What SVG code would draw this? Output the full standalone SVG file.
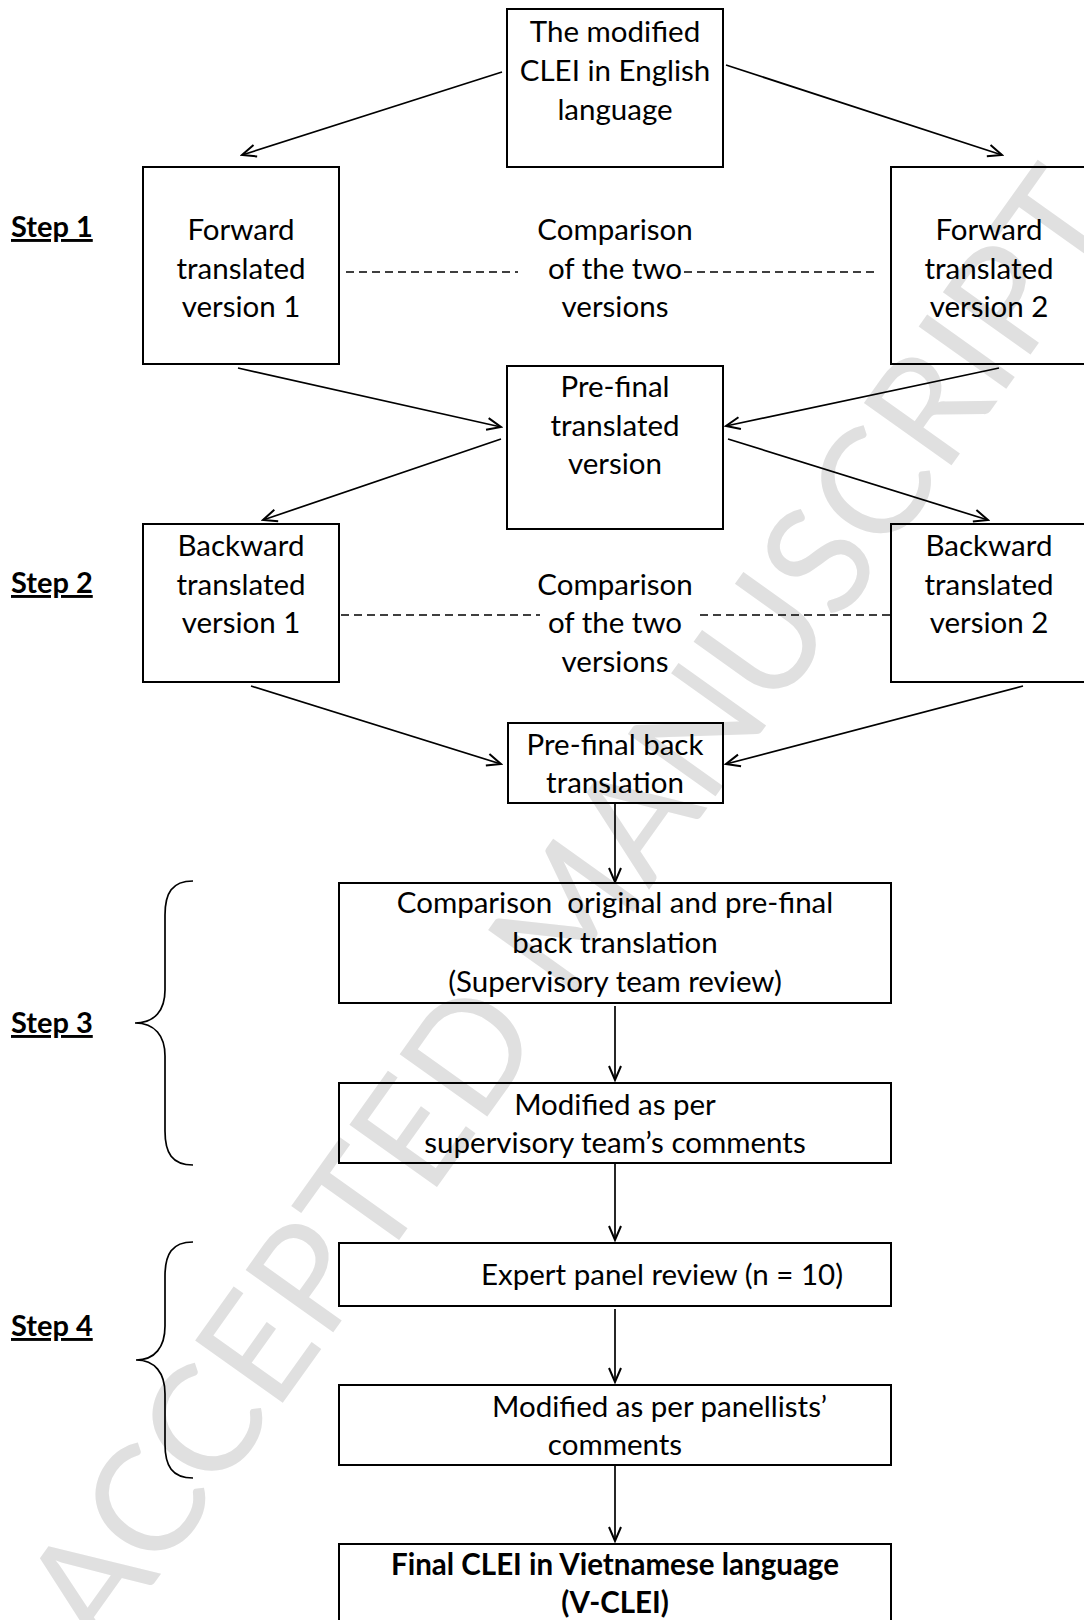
<svg xmlns="http://www.w3.org/2000/svg" width="1084" height="1620" viewBox="0 0 1084 1620">
<defs>
<style>
.box{fill:none;stroke:#000;stroke-width:2}
.t{font-family:Lato,"Liberation Sans",sans-serif;font-size:29.5px;fill:#000;text-anchor:middle}
.ts{font-family:Lato,"Liberation Sans",sans-serif;font-size:29.5px;fill:#000}
.b{font-weight:bold}
.step{font-family:Lato,"Liberation Sans",sans-serif;font-size:29px;font-weight:bold;fill:#000;text-decoration:underline}
.c{stroke:#000;stroke-width:1.7;fill:none}
.d{stroke:#000;stroke-width:1.6;fill:none;stroke-dasharray:8 5}
.wm{font-family:Lato,"Liberation Sans",sans-serif;font-size:150px;fill:#e0e0e0;text-anchor:middle}
</style>
<marker id="ah" markerUnits="userSpaceOnUse" markerWidth="18" markerHeight="16" refX="16" refY="8" orient="auto">
<path d="M2,2 L16,8 L2,14" fill="none" stroke="#000" stroke-width="2"/>
</marker>
</defs>
<rect width="1084" height="1620" fill="#fff"/>
<text class="wm" transform="translate(572,908) rotate(-54.5)" dy="52">ACCEPTED MANUSCRIPT</text>

<g id="labels">
<text class="step" x="11" y="237">Step 1</text>
<text class="step" x="11" y="593">Step 2</text>
<text class="step" x="11" y="1033">Step 3</text>
<text class="step" x="11" y="1336">Step 4</text>
<path class="c" d="M193,881 C172,881 165,893 165,915 L165,990 C165,1010 155,1023 135,1023 C155,1023 165,1036 165,1056 L165,1131 C165,1153 172,1165 193,1165"/>
<path class="c" d="M193,1242 C172,1242 165,1254 165,1276 L165,1326 C165,1347 155,1360 136,1360 C155,1360 165,1373 165,1394 L165,1444 C165,1466 172,1478 193,1478"/>
</g>

<g id="n-original">
<rect class="box" x="507" y="9" width="216" height="158"/>
<text class="t" x="615" y="42">The modified</text>
<text class="t" x="615" y="81">CLEI in English</text>
<text class="t" x="615" y="120">language</text>
</g>
<g id="n-forward1">
<rect class="box" x="143" y="167" width="196" height="197"/>
<text class="t" x="241" y="240">Forward</text>
<text class="t" x="241" y="279">translated</text>
<text class="t" x="241" y="317">version 1</text>
</g>
<g id="n-forward2">
<rect class="box" x="891" y="167" width="197" height="197"/>
<text class="t" x="989" y="240">Forward</text>
<text class="t" x="989" y="279">translated</text>
<text class="t" x="989" y="317">version 2</text>
</g>
<g id="n-compare1">
<text class="t" x="615" y="240">Comparison</text>
<text class="t" x="615" y="279">of the two</text>
<text class="t" x="615" y="317">versions</text>
</g>
<g id="n-prefinal">
<rect class="box" x="507" y="366" width="216" height="163"/>
<text class="t" x="615" y="397">Pre-final</text>
<text class="t" x="615" y="436">translated</text>
<text class="t" x="615" y="474">version</text>
</g>
<g id="n-backward1">
<rect class="box" x="143" y="524" width="196" height="158"/>
<text class="t" x="241" y="556">Backward</text>
<text class="t" x="241" y="595">translated</text>
<text class="t" x="241" y="633">version 1</text>
</g>
<g id="n-backward2">
<rect class="box" x="891" y="524" width="197" height="158"/>
<text class="t" x="989" y="556">Backward</text>
<text class="t" x="989" y="595">translated</text>
<text class="t" x="989" y="633">version 2</text>
</g>
<g id="n-compare2">
<text class="t" x="615" y="595">Comparison</text>
<text class="t" x="615" y="633">of the two</text>
<text class="t" x="615" y="672">versions</text>
</g>
<g id="n-prefinalback">
<rect class="box" x="508" y="723" width="215" height="80"/>
<text class="t" x="615" y="755">Pre-final back</text>
<text class="t" x="615" y="793">translation</text>
</g>
<g id="n-compareorig">
<rect class="box" x="339" y="883" width="552" height="120"/>
<text class="t" x="615" y="913" xml:space="preserve">Comparison  original and pre-final</text>
<text class="t" x="615" y="953">back translation</text>
<text class="t" x="615" y="992">(Supervisory team review)</text>
</g>
<g id="n-modified1">
<rect class="box" x="339" y="1083" width="552" height="80"/>
<text class="t" x="615" y="1115">Modified as per</text>
<text class="t" x="615" y="1153">supervisory team’s comments</text>
</g>
<g id="n-expert">
<rect class="box" x="339" y="1243" width="552" height="63"/>
<text class="ts" x="481" y="1285">Expert panel review (n = 10)</text>
</g>
<g id="n-modified2">
<rect class="box" x="339" y="1385" width="552" height="80"/>
<text class="ts" x="492" y="1417">Modified as per panellists’</text>
<text class="t" x="615" y="1455">comments</text>
</g>
<g id="n-final">
<rect class="box" x="339" y="1544" width="552" height="90"/>
<text class="t b" x="615" y="1575">Final CLEI in Vietnamese language</text>
<text class="t b" x="615" y="1613">(V-CLEI)</text>
</g>

<g id="connectors">
<line class="d" x1="346" y1="272" x2="518" y2="272"/>
<line class="d" x1="684" y1="272" x2="877" y2="272"/>
<line class="d" x1="341" y1="615" x2="540" y2="615"/>
<line class="d" x1="700" y1="615" x2="891" y2="615"/>
<line class="c" x1="502" y1="72" x2="242" y2="155" marker-end="url(#ah)"/>
<line class="c" x1="726" y1="65" x2="1002" y2="155" marker-end="url(#ah)"/>
<line class="c" x1="238" y1="368" x2="501" y2="427" marker-end="url(#ah)"/>
<line class="c" x1="999" y1="368" x2="726" y2="426" marker-end="url(#ah)"/>
<line class="c" x1="501" y1="439" x2="263" y2="520" marker-end="url(#ah)"/>
<line class="c" x1="728" y1="439" x2="988" y2="520" marker-end="url(#ah)"/>
<line class="c" x1="251" y1="686" x2="501" y2="764" marker-end="url(#ah)"/>
<line class="c" x1="1023" y1="686" x2="726" y2="764" marker-end="url(#ah)"/>
<line class="c" x1="615" y1="803" x2="615" y2="882" marker-end="url(#ah)"/>
<line class="c" x1="615" y1="1006" x2="615" y2="1080" marker-end="url(#ah)"/>
<line class="c" x1="615" y1="1164" x2="615" y2="1240" marker-end="url(#ah)"/>
<line class="c" x1="615" y1="1309" x2="615" y2="1382" marker-end="url(#ah)"/>
<line class="c" x1="615" y1="1466" x2="615" y2="1541" marker-end="url(#ah)"/>
</g>
</svg>
